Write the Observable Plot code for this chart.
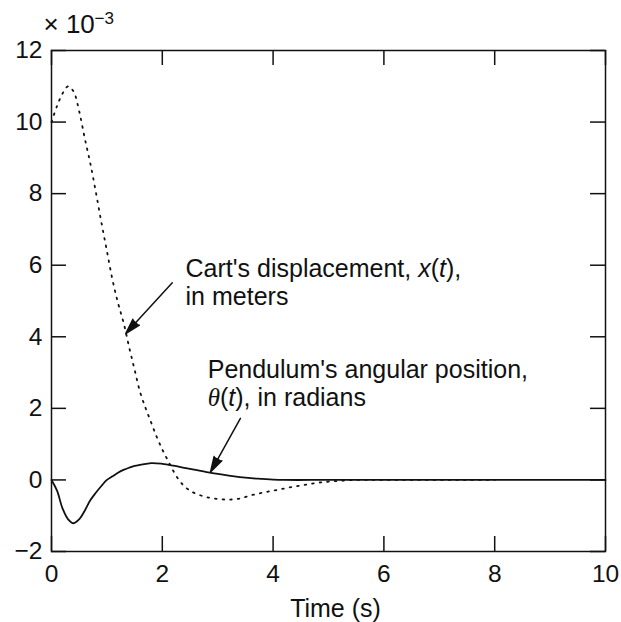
<!DOCTYPE html>
<html><head><meta charset="utf-8">
<script src="https://cdn.jsdelivr.net/npm/d3@7"></script>
<script src="https://cdn.jsdelivr.net/npm/@observablehq/plot@0.6"></script>
<style>
body{margin:0;background:#fff;}
#chart g[aria-label="x-axis tick label"], #chart g[aria-label="y-axis tick label"]{font-size:24.5px;}
</style>
</head><body><div id="chart"></div>
<script>
// ---- data (values in units of 10^-3) ----
const xTicks = [0, 2, 4, 6, 8, 10];
const yTicks = [-2, 0, 2, 4, 6, 8, 10, 12];

const tCart = [0,0.1,0.2,0.3,0.4,0.5,0.6,0.7,0.8,0.9,1.0,1.1,1.2,1.3,1.4,1.5,1.6,1.7,1.8,1.9,2.0,2.1,2.2,2.3,2.4,2.5,2.6,2.8,3.0,3.2,3.4,3.6,3.8,4.0,4.2,4.4,4.6,4.8,5.0,5.5,6.0,6.5,7.0,7.5,8.0];
const cartX = [10.0,10.45,10.8,11.0,10.85,10.3,9.55,8.85,8.05,7.2,6.4,5.6,4.95,4.4,3.72,3.08,2.45,2.0,1.6,1.2,0.85,0.55,0.25,0.0,-0.18,-0.3,-0.38,-0.48,-0.53,-0.55,-0.52,-0.43,-0.36,-0.3,-0.24,-0.18,-0.13,-0.08,-0.05,0.0,0.0,0.0,0.0,0.0,0.0];

const tPend = [0,0.1,0.2,0.3,0.4,0.5,0.6,0.7,0.8,0.9,1.0,1.1,1.2,1.3,1.4,1.5,1.6,1.8,2.0,2.2,2.4,2.6,2.8,3.0,3.2,3.4,3.6,3.8,4.0,4.2,5,6,7,8,9,10];
const pendTheta = [0,-0.3,-0.8,-1.1,-1.21,-1.1,-0.86,-0.57,-0.36,-0.17,0.0,0.1,0.2,0.28,0.34,0.39,0.42,0.47,0.45,0.4,0.34,0.28,0.22,0.17,0.12,0.08,0.05,0.03,0.01,0,0,0,0,0,0,0];

const noteText = ["Cart's displacement, x(t),\nin meters", "Pendulum's angular position,\nθ(t), in radians"];
const noteX = [2.42, 2.82];
const noteY = [6.21, 3.39];

const arrowX1 = [2.18, 3.41];
const arrowY1 = [5.51, 1.72];
const arrowX2 = [1.34, 2.87];
const arrowY2 = [4.09, 0.22];

const xLabel = "Time (s)";
const expBase = "× 10";
const expPow = "−3";

// ---- build tables ----
const cart = tCart.map((t, i) => ({t, v: cartX[i]}));
const pend = tPend.map((t, i) => ({t, v: pendTheta[i]}));
const notes = noteText.map((text, i) => ({text, x: noteX[i], y: noteY[i]}));
const arrows = arrowX1.map((x1, i) => ({x1, y1: arrowY1[i], x2: arrowX2[i], y2: arrowY2[i]}));

const W = 621, H = 622, mL = 51, mR = 16, mT = 50, mB = 71;
const fw = W - mL - mR, fh = H - mT - mB, tk = 15;
const ink = "#111";

const svg = Plot.plot({
  width: W, height: H,
  marginLeft: mL, marginRight: mR, marginTop: mT, marginBottom: mB,
  style: {fontFamily: "'Liberation Sans', Arial, Helvetica, sans-serif", fontSize: "24px", color: ink, background: "white"},
  x: {domain: [0, 10], ticks: xTicks, tickSize: 0, tickPadding: 13, label: null},
  y: {domain: [-2, 12], ticks: yTicks, tickSize: 0, tickPadding: 9, label: null},
  marks: [
    Plot.frame({stroke: ink, strokeWidth: 1.5}),
    Plot.tickX(xTicks, {x: d => d, insetTop: fh - tk, stroke: ink, strokeWidth: 1.5}),
    Plot.tickX(xTicks, {x: d => d, insetBottom: fh - tk, stroke: ink, strokeWidth: 1.5}),
    Plot.tickY(yTicks, {y: d => d, insetRight: fw - tk, stroke: ink, strokeWidth: 1.5}),
    Plot.tickY(yTicks, {y: d => d, insetLeft: fw - tk, stroke: ink, strokeWidth: 1.5}),
    Plot.line(pend, {x: "t", y: "v", stroke: ink, strokeWidth: 1.8, curve: "catmull-rom"}),
    Plot.line(cart, {x: "t", y: "v", stroke: ink, strokeWidth: 1.8, strokeDasharray: "1.6,6", curve: "catmull-rom"}),
    Plot.arrow(arrows, {x1: "x1", y1: "y1", x2: "x2", y2: "y2", stroke: ink, fill: ink, strokeWidth: 1.5, headLength: 16, headAngle: 32}),
    Plot.text(notes, {x: "x", y: "y", text: "text", textAnchor: "start", lineAnchor: "top", lineHeight: 1.1, fontSize: 25, fill: ink}),
    Plot.text([xLabel], {text: d => d, frameAnchor: "bottom", dx: 7, dy: 65, lineAnchor: "bottom", fontSize: 25, fill: ink}),
    Plot.text([expBase], {text: d => d, frameAnchor: "top-left", textAnchor: "start", dx: -8, dy: -18, lineAnchor: "bottom", fontSize: 26, fill: ink}),
    Plot.text([expPow], {text: d => d, frameAnchor: "top-left", textAnchor: "start", dx: 43, dy: -27, lineAnchor: "bottom", fontSize: 17, fill: ink})
  ]
});

// italic math symbols
(function italicize(root) {
  const ns = "http://www.w3.org/2000/svg";
  root.querySelectorAll("text, tspan").forEach(el => {
    if (el.children.length) return;
    const s = el.textContent;
    const m = s.match(/([xθ])\(t\)/);
    if (!m) return;
    const before = s.slice(0, m.index), after = s.slice(m.index + m[0].length);
    el.textContent = "";
    const add = (txt, it, serif) => {
      if (it) {
        const t = document.createElementNS(ns, "tspan");
        t.setAttribute("font-style", "italic");
        if (serif) t.setAttribute("font-family", "'Liberation Serif', 'Times New Roman', serif");
        t.textContent = txt; el.appendChild(t);
      } else el.appendChild(document.createTextNode(txt));
    };
    add(before);
    add(m[1], true, m[1] === "θ");
    add("(");
    add("t", true);
    add(")" + after);
  });
})(svg);

document.getElementById("chart").appendChild(svg);
</script>
</body></html>
